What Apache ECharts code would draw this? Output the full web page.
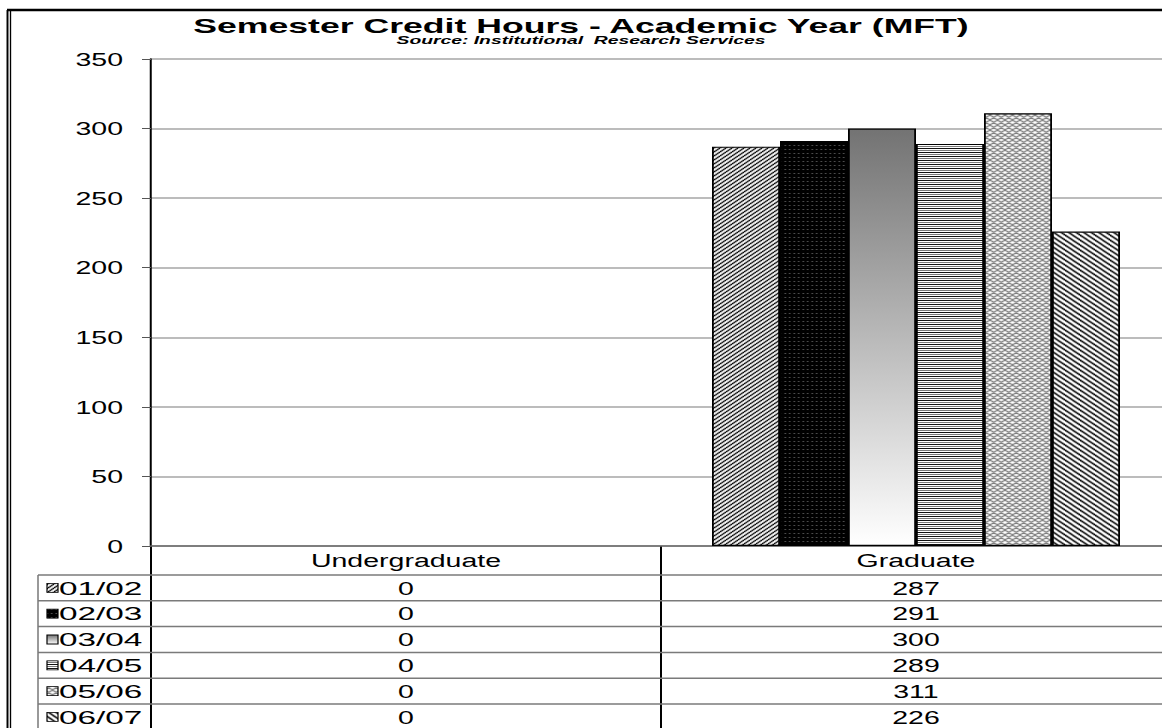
<!DOCTYPE html>
<html>
<head>
<meta charset="utf-8">
<title>Semester Credit Hours - Academic Year (MFT)</title>
<script src="https://cdn.jsdelivr.net/npm/echarts@6/dist/echarts.min.js"></script>
<style>
  html, body { margin: 0; padding: 0; background: #fff; width: 1162px; height: 728px; overflow: hidden; }
  #wrap { width: 1162px; height: 728px; overflow: hidden; position: relative; background: #fff; }
  /* the chart is laid out narrow and widened, giving the broad lettering */
  #chart { position: absolute; left: 0; top: 0; width: 774.6667px; height: 728px; transform: scaleX(1.5); transform-origin: 0 0; }
</style>
</head>
<body>
<div id="wrap"><div id="chart"></div></div>
<script>
// ---- data ----
const categories = ['Undergraduate', 'Graduate'];
const seriesNames = ['01/02', '02/03', '03/04', '04/05', '05/06', '06/07'];
const undergraduate = [0, 0, 0, 0, 0, 0];
const graduate = [287, 291, 300, 289, 311, 226];
const yMin = 0, yMax = 350, yStep = 50;
const titleText = 'Semester Credit Hours - Academic Year (MFT)';
const subtitleText = 'Source: Institutional  Research Services';

// ---- layout ----
const SX = 1.5;                 // horizontal widening applied by CSS
const W = 1162 / SX, H = 728;
const X = px => px / SX;        // screen x -> layout x
const FONT = '"Liberation Sans", Arial, sans-serif';

// ---- fills ----
function tile(w, h, bg, draw) {
  const c = document.createElement('canvas');
  c.width = w; c.height = h;
  const g = c.getContext('2d');
  g.fillStyle = bg; g.fillRect(0, 0, w, h);
  draw(g, w, h);
  return { image: c, repeat: 'repeat' };
}
function diagonal(size, up, color, lw) {
  return tile(size, size, '#fff', (g, w, h) => {
    g.strokeStyle = color; g.lineWidth = lw; g.beginPath();
    for (let k = -1; k <= 1; k++) {
      if (up) { g.moveTo(k * w - 1, h + 1); g.lineTo(k * w + w + 1, -1); }
      else    { g.moveTo(k * w - 1, -1);    g.lineTo(k * w + w + 1, h + 1); }
    }
    g.stroke();
  });
}
const fills = [
  diagonal(4, true, '#000', 1.2),
  tile(3, 4, '#000', (g) => { g.fillStyle = '#5a5a5a'; g.fillRect(1, 1, 1, 1); }),
  new echarts.graphic.LinearGradient(0, 0, 0, 1, [
    { offset: 0, color: '#737373' }, { offset: 1, color: '#ffffff' }
  ]),
  tile(2, 4, '#fff', (g) => {
    g.fillStyle = '#111'; g.fillRect(0, 0, 2, 1);
    g.fillStyle = '#7a7a7a'; g.fillRect(0, 2, 2, 1);
  }),
  tile(5, 5, '#fff', (g, w, h) => {
    g.strokeStyle = '#7e7e7e'; g.lineWidth = 1.2; g.beginPath();
    for (let k = -1; k <= 1; k++) {
      g.moveTo(k * w - 1, h + 1); g.lineTo(k * w + w + 1, -1);
      g.moveTo(k * w - 1, -1);    g.lineTo(k * w + w + 1, h + 1);
    }
    g.stroke();
  }),
  diagonal(5, false, '#000', 1.3)
];

// ---- chart ----
const chart = echarts.init(document.getElementById('chart'), null, { renderer: 'svg', width: W, height: H });
const gridTop = 59, axisY = 546;

chart.setOption({
  animation: false,
  grid: {
    left: X(151), top: gridTop, width: X(1020), height: axisY - gridTop,
    containLabel: false, outerBoundsMode: 'none'
  },
  xAxis: {
    type: 'category',
    data: categories,
    axisLine: { lineStyle: { color: '#6a6a6a', width: 1.5 } },
    axisTick: { show: false },
    axisLabel: { color: '#000', fontFamily: FONT, fontSize: 19, margin: 14, verticalAlign: 'middle' },
    splitLine: { show: false }
  },
  yAxis: {
    type: 'value',
    min: yMin, max: yMax, interval: yStep,
    axisLine: { show: true, lineStyle: { color: '#000', width: 1.33 } },
    axisTick: { show: true, length: 6, lineStyle: { color: '#555', width: 1 } },
    axisLabel: { color: '#000', fontFamily: FONT, fontSize: 19, margin: X(28) },
    splitLine: { lineStyle: { color: '#a6a6a6', width: 1.5 } }
  },
  series: seriesNames.map((name, i) => ({
    type: 'bar',
    name,
    data: [undergraduate[i], graduate[i]].map(v => ({ value: v, itemStyle: v === 0 ? { borderWidth: 0 } : {} })),
    barGap: '0%',
    barCategoryGap: '20%',
    itemStyle: { color: fills[i], borderColor: '#000', borderWidth: 1.2 }
  }))
});

// ---- frame, titles and data table ----
const els = [];
const line = (x1, y1, x2, y2, color, width) => els.push({
  type: 'line', silent: true,
  shape: { x1, y1, x2, y2 },
  style: { stroke: color, lineWidth: width }
});
const text = (x, y, str, font, align, fill) => ({
  type: 'text', silent: true,
  style: { x, y, text: str, font, fill: fill || '#000',
           align, verticalAlign: 'middle', textAlign: align, textVerticalAlign: 'middle' }
});

// outer frame
line(X(7), 10, W + 2, 10, '#000', 2.5);
line(X(7.5), 10, X(7.5), H, '#000', 1.3);
line(X(10.5), 10, X(10.5), H, '#000', 0.9);

// title block
els.push({ type: 'group', x: X(581), y: 26, scaleX: 1.13, children: [
  text(0, 0, titleText, 'bold 21px ' + FONT, 'center')
]});
els.push({ type: 'group', x: X(581), y: 40, scaleX: 1.17, children: [
  text(0, 0, subtitleText, 'italic bold 11px ' + FONT, 'center')
]});

// table grid
const headerBottom = 575, rowH = 25.8;
const axisX = X(151);
line(axisX, axisY, axisX, H, '#000', 1.33);
const centers = categories.map(c => chart.convertToPixel({ xAxisIndex: 0 }, c));
const divider = (centers[0] + centers[1]) / 2;
line(divider, axisY, divider, H, '#000', 1.33);
line(X(38), headerBottom, X(38), H, '#555', 0.8);
for (let r = 0; r <= seriesNames.length; r++) {
  const y = headerBottom + r * rowH;
  line(X(38), y, W + 2, y, '#7a7a7a', 1.5);
}

// rows: legend key, series name, value per category
seriesNames.forEach((name, i) => {
  const cy = headerBottom + rowH * (i + 0.5);
  els.push({
    type: 'rect', silent: true,
    shape: { x: X(47), y: cy - 4.5, width: X(11), height: 9 },
    style: { fill: fills[i], stroke: '#000', lineWidth: 0.8 }
  });
  els.push({ type: 'group', x: X(59), y: cy, scaleX: 1.17, children: [
    text(0, 0, name, '19px ' + FONT, 'left')
  ]});
  const values = [undergraduate[i], graduate[i]];
  centers.forEach((cx, j) => els.push(text(cx, cy, String(values[j]), '19px ' + FONT, 'center')));
});

chart.setOption({ graphic: { elements: els } });
</script>
</body>
</html>
